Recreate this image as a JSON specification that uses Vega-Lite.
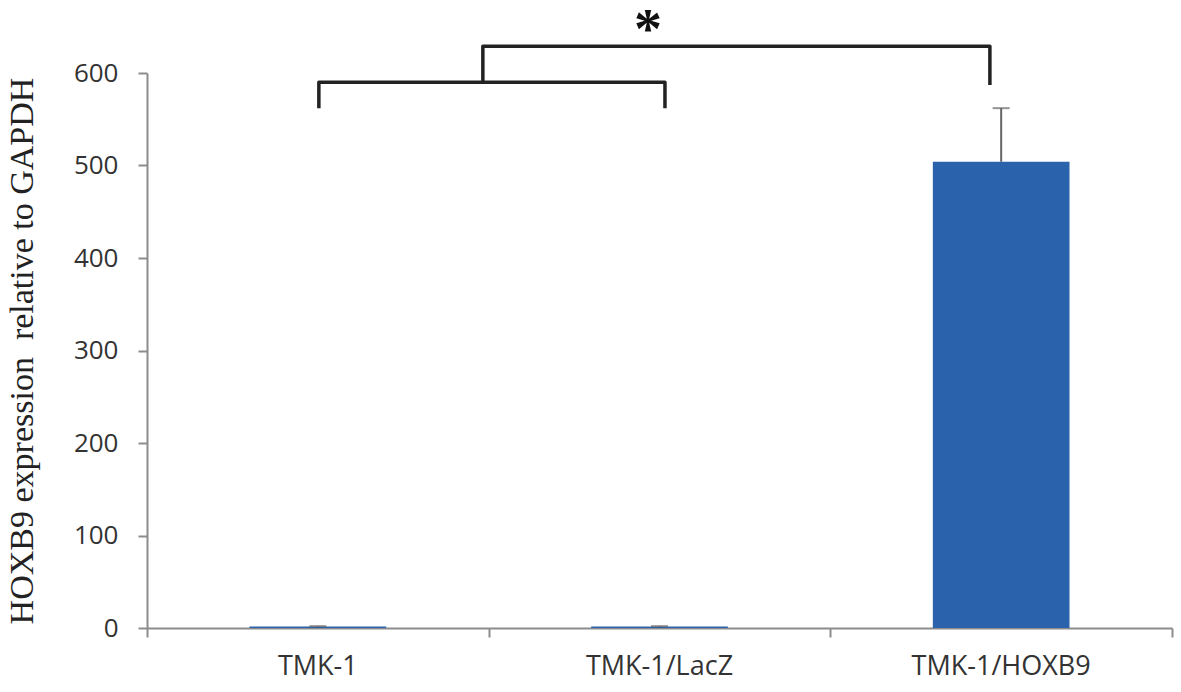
{
  "$schema": "https://vega.github.io/schema/vega-lite/v6.json",
  "width": 1025,
  "height": 555,
  "autosize": {"type": "none"},
  "padding": {"left": 147, "top": 73, "right": 9, "bottom": 64},
  "background": "white",
  "config": {
    "view": {"stroke": null},
    "font": "Open Sans",
    "axisY": {
      "grid": false,
      "domainColor": "#8c8c8c",
      "domainWidth": 2,
      "tickColor": "#8c8c8c",
      "tickWidth": 2,
      "tickSize": 9,
      "labelFontSize": 26,
      "labelColor": "#333333",
      "labelPadding": 20,
      "titleFont": "Liberation Serif",
      "titleFontSize": 34,
      "titleFontWeight": "normal",
      "titleColor": "#222222",
      "titlePadding": 34
    }
  },
  "datasets": {
    "bars": [
      {"group": "TMK-1", "value": 1.5, "low": 1.0, "high": 2.0},
      {"group": "TMK-1/LacZ", "value": 1.5, "low": 1.0, "high": 2.0},
      {"group": "TMK-1/HOXB9", "value": 504, "low": 504, "high": 562}
    ],
    "brackets": [
      {"grp": "A", "ord": 0, "bx": 0.503, "by": 562},
      {"grp": "A", "ord": 1, "bx": 0.503, "by": 590},
      {"grp": "A", "ord": 2, "bx": 1.516, "by": 590},
      {"grp": "A", "ord": 3, "bx": 1.516, "by": 562},
      {"grp": "B", "ord": 0, "bx": 0.983, "by": 590},
      {"grp": "B", "ord": 1, "bx": 0.983, "by": 629},
      {"grp": "B", "ord": 2, "bx": 2.467, "by": 629},
      {"grp": "B", "ord": 3, "bx": 2.467, "by": 587}
    ],
    "stars": [
      {"bx": 1.466, "by": 627, "label": "*"}
    ]
  },
  "layer": [
    {
      "data": {"name": "bars"},
      "encoding": {
        "x": {
          "field": "group",
          "type": "nominal",
          "sort": null,
          "scale": {"paddingInner": 0.6, "paddingOuter": 0.3},
          "axis": {
            "orient": "bottom",
            "title": null,
            "ticks": false,
            "domain": false,
            "labelAngle": 0,
            "labelFontSize": 27,
            "labelColor": "#333333",
            "labelPadding": 25
          }
        }
      },
      "layer": [
        {
          "mark": {"type": "bar", "color": "#2a62ab"},
          "encoding": {
            "y": {
              "field": "value",
              "type": "quantitative",
              "scale": {"domain": [0, 600], "nice": false},
              "axis": {"title": "HOXB9 expression\u00a0 relative to GAPDH", "values": [0, 100, 200, 300, 400, 500, 600]}
            }
          }
        },
        {
          "mark": {"type": "rule", "color": "#666666", "strokeWidth": 2},
          "encoding": {
            "y": {"field": "low", "type": "quantitative", "scale": {"domain": [0, 600], "nice": false}, "axis": {"title": "HOXB9 expression\u00a0 relative to GAPDH", "values": [0, 100, 200, 300, 400, 500, 600]}},
            "y2": {"field": "high"}
          }
        },
        {
          "mark": {"type": "tick", "color": "#666666", "thickness": 2, "size": 17},
          "encoding": {
            "y": {"field": "high", "type": "quantitative", "scale": {"domain": [0, 600], "nice": false}, "axis": {"title": "HOXB9 expression\u00a0 relative to GAPDH", "values": [0, 100, 200, 300, 400, 500, 600]}}
          }
        }
      ]
    },
    {
      "layer": [
        {
          "data": {"name": "brackets"},
          "mark": {"type": "line", "color": "#222222", "strokeWidth": 3.5, "strokeJoin": "round"},
          "encoding": {
            "x": {
              "field": "bx",
              "type": "quantitative",
              "scale": {"domain": [0, 3], "nice": false, "zero": false},
              "axis": {
                "orient": "bottom",
                "values": [0, 1, 2, 3],
                "labels": false,
                "title": null,
                "grid": false,
                "domainColor": "#8c8c8c",
                "domainWidth": 2,
                "tickColor": "#8c8c8c",
                "tickWidth": 2,
                "tickSize": 9
              }
            },
            "y": {"field": "by", "type": "quantitative", "scale": {"domain": [0, 600], "nice": false}, "axis": {"title": "HOXB9 expression\u00a0 relative to GAPDH", "values": [0, 100, 200, 300, 400, 500, 600]}},
            "detail": {"field": "grp"},
            "order": {"field": "ord", "type": "quantitative"}
          }
        },
        {
          "data": {"name": "stars"},
          "mark": {"type": "text", "font": "Liberation Serif", "fontSize": 56, "fontWeight": "bold", "baseline": "alphabetic", "align": "center", "color": "#111111"},
          "encoding": {
            "x": {"field": "bx", "type": "quantitative", "scale": {"domain": [0, 3], "nice": false, "zero": false}},
            "y": {"field": "by", "type": "quantitative", "scale": {"domain": [0, 600], "nice": false}, "axis": {"title": "HOXB9 expression\u00a0 relative to GAPDH", "values": [0, 100, 200, 300, 400, 500, 600]}},
            "text": {"field": "label"}
          }
        }
      ]
    }
  ],
  "resolve": {"scale": {"x": "independent"}}
}
